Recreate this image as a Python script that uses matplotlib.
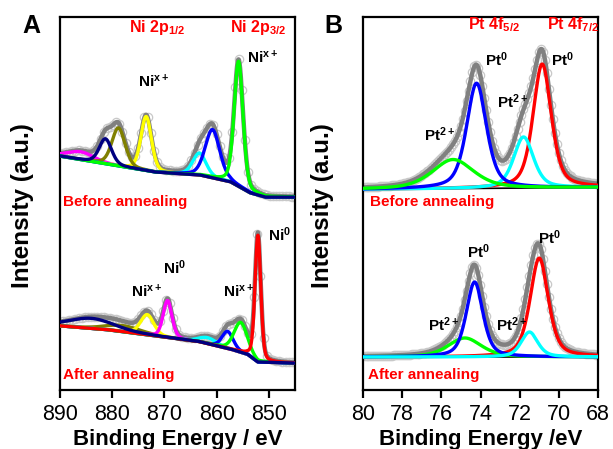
import numpy as np
import matplotlib
matplotlib.use('Agg')
import matplotlib.pyplot as plt

plt.rcParams['font.family'] = ['Liberation Sans', 'DejaVu Sans']
plt.rcParams['mathtext.fontset'] = 'custom'
plt.rcParams['mathtext.rm'] = 'Liberation Sans:bold'
plt.rcParams['mathtext.it'] = 'Liberation Sans:bold'
plt.rcParams['mathtext.bf'] = 'Liberation Sans:bold'

# ---------------- Panel A : Ni 2p ----------------
a_ticks = [890, 880, 870, 860, 850]
# before annealing (upper spectrum)
a1_colors = ['#ff00ff', '#ffff00', '#808000', '#00ffff', '#0000ff', '#00ff00', '#000080']
a1_center = [886.0, 873.5, 878.8, 863.3, 860.8, 855.8, 881.3]
a1_height = [2.1, 14.5, 10.2, 5.9, 12.9, 33.5, 6.7]
a1_fwhm = [6.0, 2.4, 3.0, 3.0, 3.3, 2.0, 2.8]
a1_bg_e = [845.0, 850.6, 853.5, 857.3, 863.0, 871.7, 890.0]
a1_bg_y = [51.7, 51.7, 52.8, 55.8, 57.6, 58.4, 62.7]
# after annealing (lower spectrum)
a2_colors = ['#808000', '#ffff00', '#ff00ff', '#00ffff', '#0000ff', '#00ff00', '#ff0000', '#000080']
a2_center = [878.0, 873.3, 869.4, 861.7, 857.9, 855.4, 852.1, 884.0]
a2_height = [1.6, 5.4, 9.9, 1.6, 4.6, 8.0, 34.0, 2.7]
a2_fwhm = [8.0, 3.0, 2.0, 4.0, 2.5, 3.0, 1.3, 10.0]
a2_bg_e = [845.0, 852.1, 854.0, 856.7, 863.1, 872.7, 880.4, 890.0]
a2_bg_y = [7.2, 7.5, 9.5, 10.7, 12.9, 14.7, 16.1, 17.2]

# ---------------- Panel B : Pt 4f ----------------
b_ticks = [80, 78, 76, 74, 72, 70, 68]
b1_colors = ['#ff0000', '#00ffff', '#0000ff', '#00ff00']
b1_center = [70.85, 71.8, 74.2, 75.4]
b1_height = [33.2, 13.7, 28.2, 7.8]
b1_fwhm = [1.1, 1.2, 1.2, 2.5]
b1_bg_e = [68.0, 80.0]
b1_bg_y = [54.3, 53.8]
b2_colors = ['#ff0000', '#00ff00', '#0000ff', '#00ffff']
b2_center = [71.0, 74.8, 74.3, 71.5]
b2_height = [26.5, 5.1, 20.1, 6.7]
b2_fwhm = [1.1, 2.0, 1.0, 1.0]
b2_bg_e = [68.0, 80.0]
b2_bg_y = [8.85, 8.85]


def pvoigt(x, c, h, w, eta):
    u = (x - c) / w
    return h * (eta / (1 + 4 * u ** 2) + (1 - eta) * np.exp(-4 * np.log(2) * u ** 2))


fig = plt.figure(figsize=(6.13, 4.49), dpi=100)
axA = fig.add_axes([60 / 613, 1 - 390 / 449, 235 / 613, 373 / 449])
axB = fig.add_axes([363 / 613, 1 - 390 / 449, 235 / 613, 373 / 449])


def draw(ax, x, bg_e, bg_y, centers, heights, fwhms, colors, eta, mstep):
    bg = np.interp(x, bg_e, bg_y)
    comps = [pvoigt(x, c, h, w, eta) for c, h, w in zip(centers, heights, fwhms)]
    env = bg + np.sum(comps, axis=0)
    ax.plot(x[::mstep], env[::mstep], 'o', ms=6, mfc='none', mec='#c8c8c8', mew=0.9, zorder=1)
    ax.plot(x, env, color='#808080', lw=3.2, zorder=2)
    ax.plot(x, bg, color='black', lw=1.2, zorder=2.5)
    for i, (comp, col) in enumerate(zip(comps, colors)):
        ax.plot(x, bg + comp, color=col, lw=2.4, zorder=3 + i * 0.1)


xa = np.linspace(845, 890, 900)
draw(axA, xa, a1_bg_e, a1_bg_y, a1_center, a1_height, a1_fwhm, a1_colors, 0.3, 12)
draw(axA, xa, a2_bg_e, a2_bg_y, a2_center, a2_height, a2_fwhm, a2_colors, 0.3, 12)
xb = np.linspace(68, 80, 600)
draw(axB, xb, b1_bg_e, b1_bg_y, b1_center, b1_height, b1_fwhm, b1_colors, 0.5, 5)
draw(axB, xb, b2_bg_e, b2_bg_y, b2_center, b2_height, b2_fwhm, b2_colors, 0.5, 5)

for ax, lim, ticks in [(axA, (890, 845), a_ticks), (axB, (80, 68), b_ticks)]:
    ax.set_xlim(*lim)
    ax.set_ylim(0, 100)
    ax.set_xticks(ticks)
    ax.set_yticks([])
    for s in ax.spines.values():
        s.set_linewidth(1.6)
    ax.tick_params(axis='x', direction='out', length=6, width=1.6, labelsize=15.5, pad=4)

axA.set_xlabel('Binding Energy / eV', fontsize=16, fontweight='bold', labelpad=3)
axB.set_xlabel('Binding Energy /eV', fontsize=16, fontweight='bold', labelpad=3)
fig.text(23 / 613, 1 - 206 / 449, 'Intensity (a.u.)', rotation=90, fontsize=17.5,
         fontweight='bold', ha='center', va='center')
fig.text(323 / 613, 1 - 206 / 449, 'Intensity (a.u.)', rotation=90, fontsize=17.5,
         fontweight='bold', ha='center', va='center')
fig.text(31 / 613, 1 - 26 / 449, 'A', fontsize=18, fontweight='bold', ha='center', va='center')
fig.text(333 / 613, 1 - 26 / 449, 'B', fontsize=18, fontweight='bold', ha='center', va='center')

red_kw = dict(color='#ff0000', fontsize=11.5, fontweight='bold', ha='center', va='center')
blk_kw = dict(color='black', fontsize=11, fontweight='bold', ha='center', va='center')

# Panel A labels
axA.text(871.3, 97.3, r'Ni 2p$_{1/2}$', **red_kw)
axA.text(852.0, 97.3, r'Ni 2p$_{3/2}$', **red_kw)
axA.text(872.1, 82.6, r'Ni$^{x+}$', **blk_kw)
axA.text(851.2, 89.0, r'Ni$^{x+}$', **blk_kw)
axA.text(873.5, 26.3, r'Ni$^{x+}$', **blk_kw)
axA.text(868.1, 32.7, r'Ni$^{0}$', **blk_kw)
axA.text(855.8, 26.3, r'Ni$^{x+}$', **blk_kw)
axA.text(847.9, 41.6, r'Ni$^{0}$', **blk_kw)
axA.text(889.4, 50.4, 'Before annealing', color='#ff0000', fontsize=11, fontweight='bold', ha='left', va='center')
axA.text(889.4, 4.0, 'After annealing', color='#ff0000', fontsize=11, fontweight='bold', ha='left', va='center')

# Panel B labels
axB.text(73.3, 97.9, r'Pt 4f$_{5/2}$', **red_kw)
axB.text(69.27, 97.9, r'Pt 4f$_{7/2}$', **red_kw)
axB.text(73.2, 88.5, r'Pt$^{0}$', **blk_kw)
axB.text(69.84, 88.5, r'Pt$^{0}$', **blk_kw)
axB.text(72.34, 77.2, r'Pt$^{2+}$', **blk_kw)
axB.text(76.07, 68.4, r'Pt$^{2+}$', **blk_kw)
axB.text(74.08, 37.0, r'Pt$^{0}$', **blk_kw)
axB.text(70.5, 40.75, r'Pt$^{0}$', **blk_kw)
axB.text(75.9, 17.4, r'Pt$^{2+}$', **blk_kw)
axB.text(72.39, 17.4, r'Pt$^{2+}$', **blk_kw)
axB.text(79.64, 50.4, 'Before annealing', color='#ff0000', fontsize=11, fontweight='bold', ha='left', va='center')
axB.text(79.74, 4.0, 'After annealing', color='#ff0000', fontsize=11, fontweight='bold', ha='left', va='center')

fig.savefig('out.png', dpi=100)
